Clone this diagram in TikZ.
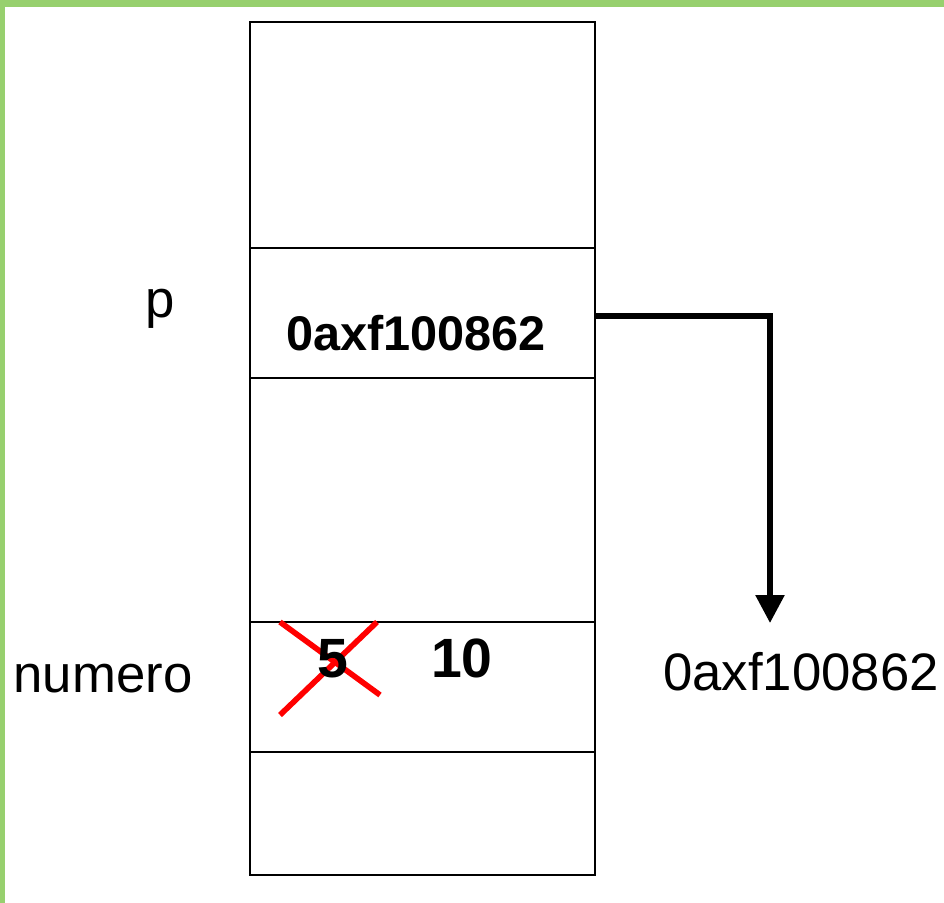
\documentclass[tikz,border=0pt]{standalone}
\usepackage{fontspec}
\setmainfont{Liberation Sans}
\usetikzlibrary{arrows.meta}
\definecolor{framegreen}{RGB}{151,208,110}
\definecolor{crossred}{RGB}{255,0,0}

\tikzset{
  cell/.style={draw, line width=1.5pt, minimum width=6.9cm, inner sep=0pt},
  ptr/.style={line width=3.2pt, -{Triangle[width=0.56cm,length=0.56cm]}},
  crossout/.style={crossred, line width=3.2pt},
  lbl/.style={anchor=base, inner sep=0pt, font=\fontsize{30}{35}\selectfont},
  addr/.style={anchor=base, inner sep=0pt, font=\fontsize{30}{35}\selectfont},
  val/.style={anchor=base, inner sep=0pt, font=\bfseries\fontsize{27.7}{32}\selectfont},
  num/.style={anchor=base, inner sep=0pt, font=\bfseries\fontsize{31.5}{37}\selectfont},
}

\begin{document}
\begin{tikzpicture}[x=0.02cm,y=-0.02cm]
  \useasboundingbox (0,0) rectangle (944,903);
  % green frame
  \fill[framegreen] (0,0) rectangle (944,7);
  \fill[framegreen] (0,0) rectangle (5,903);

  % memory cells
  \foreach \name/\yc/\h in {top/135/4.52, pcell/313/2.6, mid/500/4.88, ncell/687/2.6, bottom/813.5/2.46} {
    \node[cell, minimum height=\h cm] (\name) at (422.5,\yc) {};
  }

  \node[lbl] (plbl) at (160,317) {p};
  \node[val] (pval) at (416,350) {0axf100862};
  \node[lbl] (nlbl) at (103,692) {numero};

  % old value crossed out
  \draw[crossout] (280,622) -- (380,695);
  \draw[crossout] (377,622) -- (280,715);
  \node[num] (old) at (333,677) {5};
  \node[num] (new) at (462,677) {10};

  \node[addr] (addrlbl) at (801,690) {0axf100862};
  \coordinate (ptrend) at (770,623);
  \draw[ptr] ([yshift=-0.06cm]pcell.east) -| (ptrend);
\end{tikzpicture}
\end{document}
